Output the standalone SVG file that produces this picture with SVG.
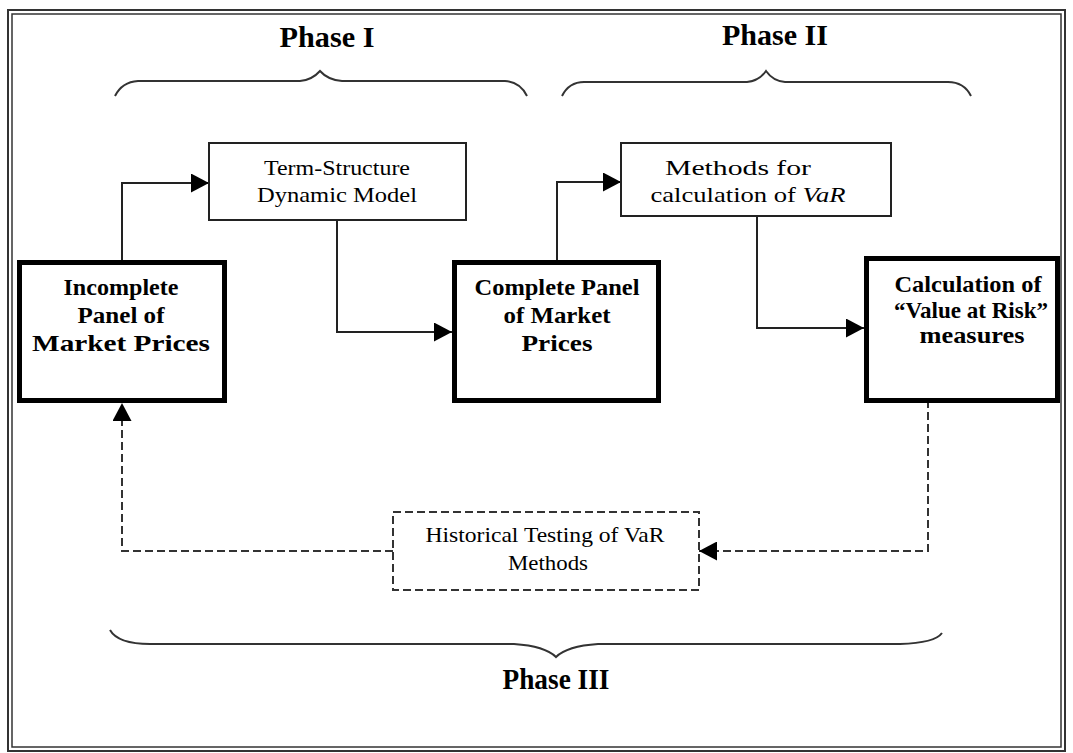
<svg xmlns="http://www.w3.org/2000/svg" width="1073" height="753" viewBox="0 0 1073 753">
<style>
.t{font-family:"Liberation Serif","Times New Roman",serif;font-size:22px;fill:#000;text-anchor:middle}
.b{font-family:"Liberation Serif","Times New Roman",serif;font-size:24px;font-weight:bold;fill:#000;text-anchor:middle}
.ph{font-family:"Liberation Serif","Times New Roman",serif;font-size:29px;font-weight:bold;fill:#000;text-anchor:middle}
.box{fill:#fff;stroke:#222;stroke-width:2}
.thick{fill:#fff;stroke:#000;stroke-width:5}
.dbox{fill:#fff;stroke:#333;stroke-width:2;stroke-dasharray:8 4}
.c{fill:none;stroke:#222;stroke-width:2}
.d{fill:none;stroke:#333;stroke-width:2;stroke-dasharray:8 4}
.br{fill:none;stroke:#333;stroke-width:2}
</style>
<defs>
<marker id="ah" markerUnits="userSpaceOnUse" markerWidth="19" markerHeight="19" refX="18" refY="9.5" orient="auto">
<path d="M0,0 L18,9.5 L0,19 z" fill="#000"/>
</marker>
</defs>
<rect width="1073" height="753" fill="#fff"/>
<g id="frame">
<rect x="8" y="10" width="1057" height="741" fill="none" stroke="#333" stroke-width="2"/>
<rect x="12" y="14" width="1049" height="733" fill="none" stroke="#333" stroke-width="1.5"/>
</g>
<g id="phase1">
<text class="ph" x="327" y="47" textLength="95" lengthAdjust="spacingAndGlyphs">Phase I</text>
<path class="br" d="M115,96 Q122,82 138,81 L300,81 Q312,80 320,71 Q328,80 342,81 L505,81 Q520,82 527,96"/>
</g>
<g id="phase2">
<text class="ph" x="775" y="45" textLength="106" lengthAdjust="spacingAndGlyphs">Phase II</text>
<path class="br" d="M562,96 Q569,82 584,82 L747,82 Q759,81 766,71 Q773,81 785,82 L948,82 Q964,82 971,96"/>
</g>
<g id="phase3">
<path class="br" d="M110,630 Q118,644 150,644 L514,644 Q545,646 556,657 Q567,646 598,644 L900,644 Q935,643 942,633"/>
<text class="ph" x="556" y="689" textLength="107" lengthAdjust="spacingAndGlyphs">Phase III</text>
</g>
<g id="connectors">
<path class="c" d="M122,260 L122,183 L209,183" marker-end="url(#ah)"/>
<path class="c" d="M337,220 L337,332 L452,332" marker-end="url(#ah)"/>
<path class="c" d="M557,260 L557,182 L621,182" marker-end="url(#ah)"/>
<path class="c" d="M757,216 L757,328 L864,328" marker-end="url(#ah)"/>
<path class="d" d="M928,400 L928,551 L699,551" marker-end="url(#ah)"/>
<path class="d" d="M393,551 L122,551 L122,403" marker-end="url(#ah)"/>
</g>
<g id="term-structure">
<rect class="box" x="209" y="143" width="257" height="77"/>
<text class="t" x="337" y="175" textLength="146" lengthAdjust="spacingAndGlyphs">Term-Structure</text>
<text class="t" x="337" y="202" textLength="160" lengthAdjust="spacingAndGlyphs">Dynamic Model</text>
</g>
<g id="methods">
<rect class="box" x="621" y="143" width="270" height="73"/>
<text class="t" x="738" y="175" textLength="146" lengthAdjust="spacingAndGlyphs">Methods for</text>
<text class="t" x="748" y="202" textLength="195" lengthAdjust="spacingAndGlyphs">calculation of <tspan font-style="italic">VaR</tspan></text>
</g>
<g id="incomplete">
<rect class="thick" x="19.5" y="262.5" width="205" height="138"/>
<text class="b" x="121" y="295" textLength="115" lengthAdjust="spacingAndGlyphs">Incomplete</text>
<text class="b" x="121" y="323" textLength="87" lengthAdjust="spacingAndGlyphs">Panel of</text>
<text class="b" x="121" y="351" textLength="178" lengthAdjust="spacingAndGlyphs">Market Prices</text>
</g>
<g id="complete">
<rect class="thick" x="454.5" y="262.5" width="204" height="138"/>
<text class="b" x="557" y="295" textLength="165" lengthAdjust="spacingAndGlyphs">Complete Panel</text>
<text class="b" x="557" y="323" textLength="107" lengthAdjust="spacingAndGlyphs">of Market</text>
<text class="b" x="557" y="351" textLength="71" lengthAdjust="spacingAndGlyphs">Prices</text>
</g>
<g id="calculation">
<rect class="thick" x="866.5" y="258.5" width="191" height="142"/>
<text class="b" x="968" y="292" textLength="147" lengthAdjust="spacingAndGlyphs">Calculation of</text>
<text class="b" x="971" y="318" textLength="154" lengthAdjust="spacingAndGlyphs">“Value at Risk”</text>
<text class="b" x="972" y="343" textLength="105" lengthAdjust="spacingAndGlyphs">measures</text>
</g>
<g id="historical">
<rect class="dbox" x="393" y="512" width="306" height="78"/>
<text class="t" x="545" y="542" textLength="239" lengthAdjust="spacingAndGlyphs">Historical Testing of VaR</text>
<text class="t" x="548" y="570" textLength="80" lengthAdjust="spacingAndGlyphs">Methods</text>
</g>
</svg>
